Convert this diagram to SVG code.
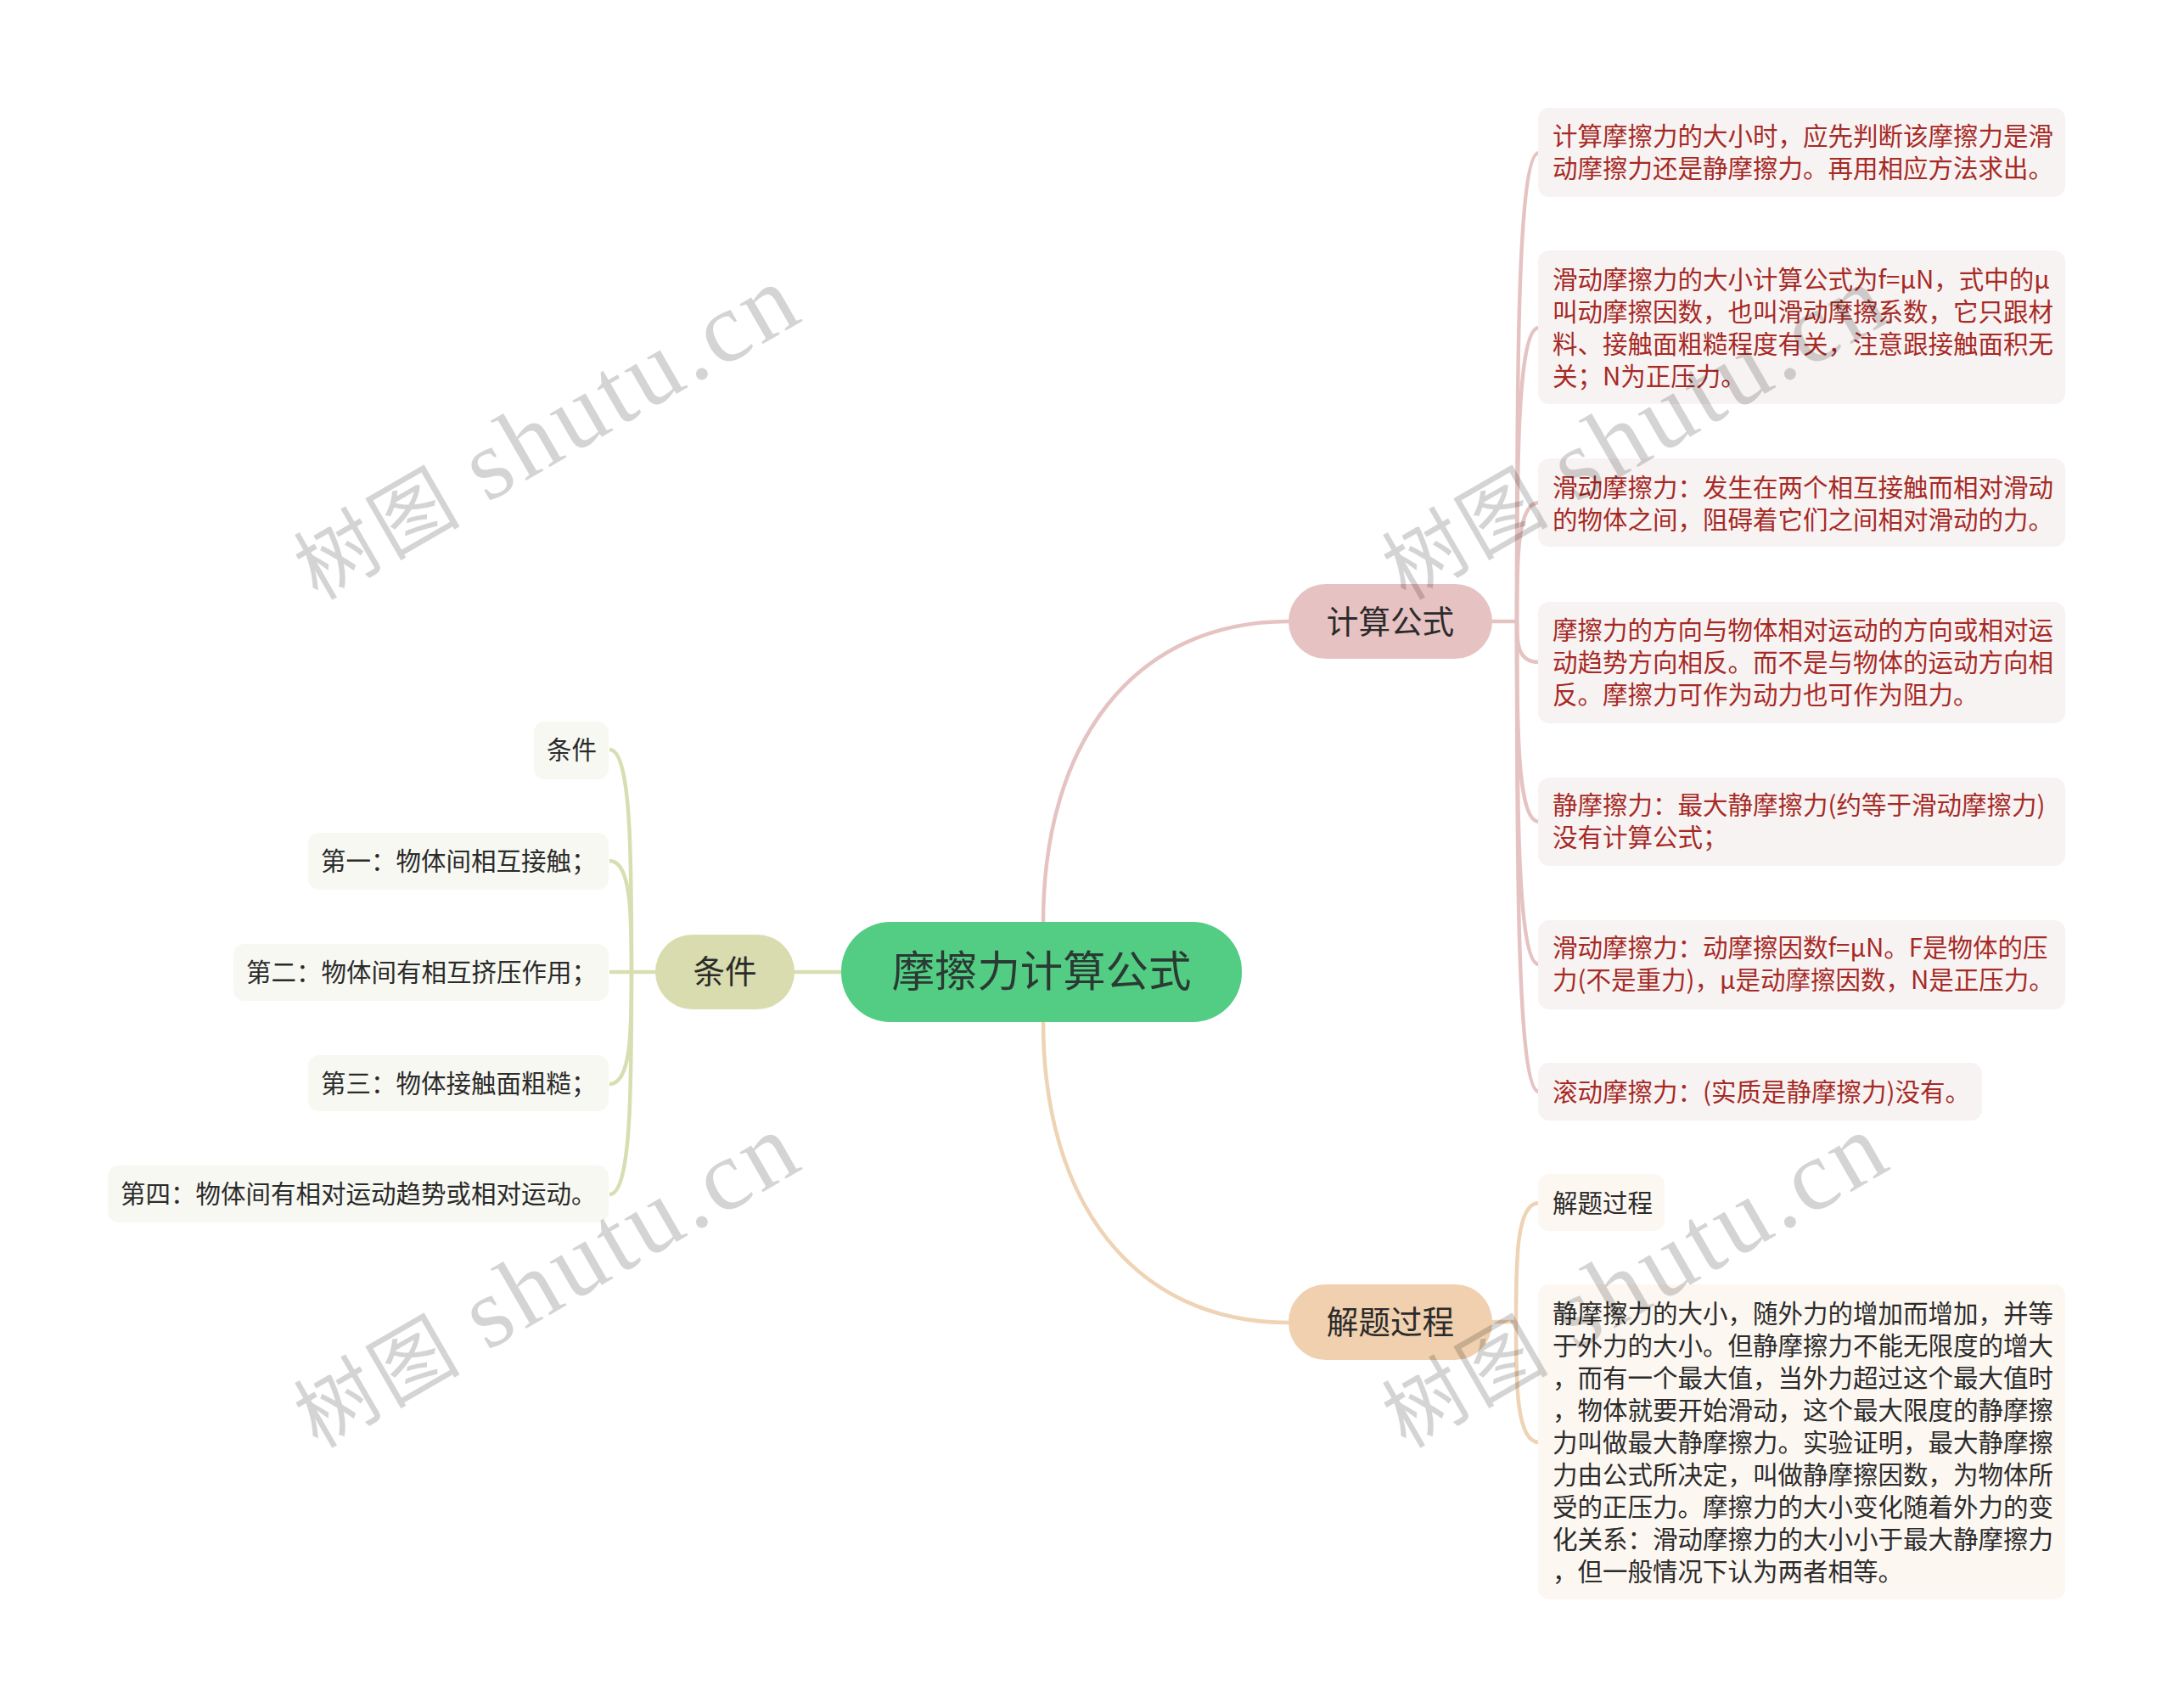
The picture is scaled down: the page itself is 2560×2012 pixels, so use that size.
<svg xmlns="http://www.w3.org/2000/svg" width="2560" height="2012" viewBox="0 0 2560 2012">
<style>
text{font-family:"Noto Sans CJK SC","Noto Sans",sans-serif;font-size:29.5px;fill:#2b2b2b}
.red text{fill:#a62a25}
.lr rect{fill:#f8f3f3}
.lo rect{fill:#fdf7f1}
.lg rect{fill:#f7f8f2}
.c{fill:none;stroke-width:4.5}
.cr{stroke:#e6c3c3}.co{stroke:#eed3b5}.cg{stroke:#d9deb2}
.l2{font-size:37.6px;text-anchor:middle}
.wm{font-family:"Liberation Serif","Noto Sans CJK SC",serif;font-size:118px;letter-spacing:5px;fill:#000;fill-opacity:.17}
.wm .z{font-size:96px;font-family:"Noto Sans CJK SC",serif}
</style>
<rect width="2560" height="2012" fill="#fff"/>
<g id="connectors">
<path class="c cr" d="M1229 1087C1229 875 1335 732 1518 732"/>
<path class="c co" d="M1229 1204C1229 1415 1335 1558 1518 1558"/>
<path class="c cg" d="M991 1145H935"/>
<path class="c cr" d="M1758 732H1787"/>
<path class="c cr" d="M1787 732C1787 456 1787 180 1813 180"/>
<path class="c cr" d="M1787 732C1787 558 1787 386 1813 386"/>
<path class="c cr" d="M1787 732C1787 662 1787 592 1813 592"/>
<path class="c cr" d="M1787 732C1787 756 1787 780 1813 780"/>
<path class="c cr" d="M1787 732C1787 850 1787 968 1813 968"/>
<path class="c cr" d="M1787 732C1787 934 1787 1136 1813 1136"/>
<path class="c cr" d="M1787 732C1787 1009 1787 1286 1813 1286"/>
<path class="c co" d="M1758 1557H1786"/>
<path class="c co" d="M1786 1557C1786 1487 1786 1417 1813 1417"/>
<path class="c co" d="M1786 1557C1786 1628 1786 1699 1813 1699"/>
<path class="c cg" d="M773 1145H718"/>
<path class="c cg" d="M744 1145C744 1014 744 883 718 883"/>
<path class="c cg" d="M744 1145C744 1080 744 1014 718 1014"/>
<path class="c cg" d="M744 1145C744 1211 744 1277 718 1277"/>
<path class="c cg" d="M744 1145C744 1276 744 1407 718 1407"/>
</g>
<g id="center"><rect x="991" y="1086" width="472" height="118" rx="58" fill="#53cc84"/><text class="l2" x="1227" y="1162" style="font-size:50.4px;fill:#2a3a33">摩擦力计算公式</text></g>
<g id="n-calc"><rect x="1518" y="688" width="240" height="88" rx="44" fill="#e6c2c2"/><text class="l2" x="1638" y="746">计算公式</text></g>
<g id="n-proc"><rect x="1518" y="1513" width="240" height="89" rx="44" fill="#f0d0ae"/><text class="l2" x="1638" y="1571">解题过程</text></g>
<g id="n-cond"><rect x="772" y="1101" width="164" height="88" rx="44" fill="#d9dcae"/><text class="l2" x="854" y="1158">条件</text></g>
<g id="r1" class="red lr"><rect x="1812" y="127" width="621" height="105" rx="13"/><text x="1829" y="170.5">计算摩擦力的大小时，应先判断该摩擦力是滑</text><text x="1829" y="208.5">动摩擦力还是静摩擦力。再用相应方法求出。</text></g>
<g id="r2" class="red lr"><rect x="1812" y="295" width="621" height="181" rx="13"/><text x="1829" y="339.5">滑动摩擦力的大小计算公式为f=μN，式中的μ</text><text x="1829" y="377.5">叫动摩擦因数，也叫滑动摩擦系数，它只跟材</text><text x="1829" y="415.5">料、接触面粗糙程度有关，注意跟接触面积无</text><text x="1829" y="453.5">关；N为正压力。</text></g>
<g id="r3" class="red lr"><rect x="1812" y="540" width="621" height="104" rx="13"/><text x="1829" y="584.5">滑动摩擦力：发生在两个相互接触而相对滑动</text><text x="1829" y="622.5">的物体之间，阻碍着它们之间相对滑动的力。</text></g>
<g id="r4" class="red lr"><rect x="1812" y="709" width="621" height="143" rx="13"/><text x="1829" y="752.5">摩擦力的方向与物体相对运动的方向或相对运</text><text x="1829" y="790.5">动趋势方向相反。而不是与物体的运动方向相</text><text x="1829" y="828.5">反。摩擦力可作为动力也可作为阻力。</text></g>
<g id="r5" class="red lr"><rect x="1812" y="916" width="621" height="104" rx="13"/><text x="1829" y="959">静摩擦力：最大静摩擦力(约等于滑动摩擦力)</text><text x="1829" y="997">没有计算公式；</text></g>
<g id="r6" class="red lr"><rect x="1812" y="1084" width="621" height="105" rx="13"/><text x="1829" y="1127">滑动摩擦力：动摩擦因数f=μN。F是物体的压</text><text x="1829" y="1165">力(不是重力)，μ是动摩擦因数，N是正压力。</text></g>
<g id="r7" class="red lr"><rect x="1812" y="1252" width="523" height="68" rx="13"/><text x="1829" y="1297">滚动摩擦力：(实质是静摩擦力)没有。</text></g>
<g id="o1" class="lo"><rect x="1812" y="1383" width="149" height="67" rx="13"/><text x="1829" y="1428">解题过程</text></g>
<g id="o2" class="lo"><rect x="1812" y="1513" width="621" height="371" rx="13"/><text x="1829" y="1557.5">静摩擦力的大小，随外力的增加而增加，并等</text><text x="1829" y="1595.5">于外力的大小。但静摩擦力不能无限度的增大</text><text x="1829" y="1633.5">，而有一个最大值，当外力超过这个最大值时</text><text x="1829" y="1671.5">，物体就要开始滑动，这个最大限度的静摩擦</text><text x="1829" y="1709.5">力叫做最大静摩擦力。实验证明，最大静摩擦</text><text x="1829" y="1747.5">力由公式所决定，叫做静摩擦因数，为物体所</text><text x="1829" y="1785.5">受的正压力。摩擦力的大小变化随着外力的变</text><text x="1829" y="1823.5">化关系：滑动摩擦力的大小小于最大静摩擦力</text><text x="1829" y="1861.5">，但一般情况下认为两者相等。</text></g>
<g id="g1" class="lg"><rect x="629" y="850" width="88" height="68" rx="13"/><text x="644" y="894">条件</text></g>
<g id="g2" class="lg"><rect x="363" y="981" width="354" height="67" rx="13"/><text x="378" y="1025">第一：物体间相互接触；</text></g>
<g id="g3" class="lg"><rect x="275" y="1112" width="442" height="67" rx="13"/><text x="290" y="1155.5">第二：物体间有相互挤压作用；</text></g>
<g id="g4" class="lg"><rect x="363" y="1243" width="354" height="66" rx="13"/><text x="378" y="1286.5">第三：物体接触面粗糙；</text></g>
<g id="g5" class="lg"><rect x="127" y="1373" width="590" height="67" rx="13"/><text x="142" y="1417">第四：物体间有相对运动趋势或相对运动。</text></g>
<g id="watermarks">
<text class="wm" transform="translate(374 708) rotate(-30)"><tspan class="z">树图</tspan><tspan dx="-6"> shutu.cn</tspan></text>
<text class="wm" transform="translate(1656 708) rotate(-30)"><tspan class="z">树图</tspan><tspan dx="-6"> shutu.cn</tspan></text>
<text class="wm" transform="translate(374 1707) rotate(-30)"><tspan class="z">树图</tspan><tspan dx="-6"> shutu.cn</tspan></text>
<text class="wm" transform="translate(1656 1707) rotate(-30)"><tspan class="z">树图</tspan><tspan dx="-6"> shutu.cn</tspan></text>
</g>
</svg>
